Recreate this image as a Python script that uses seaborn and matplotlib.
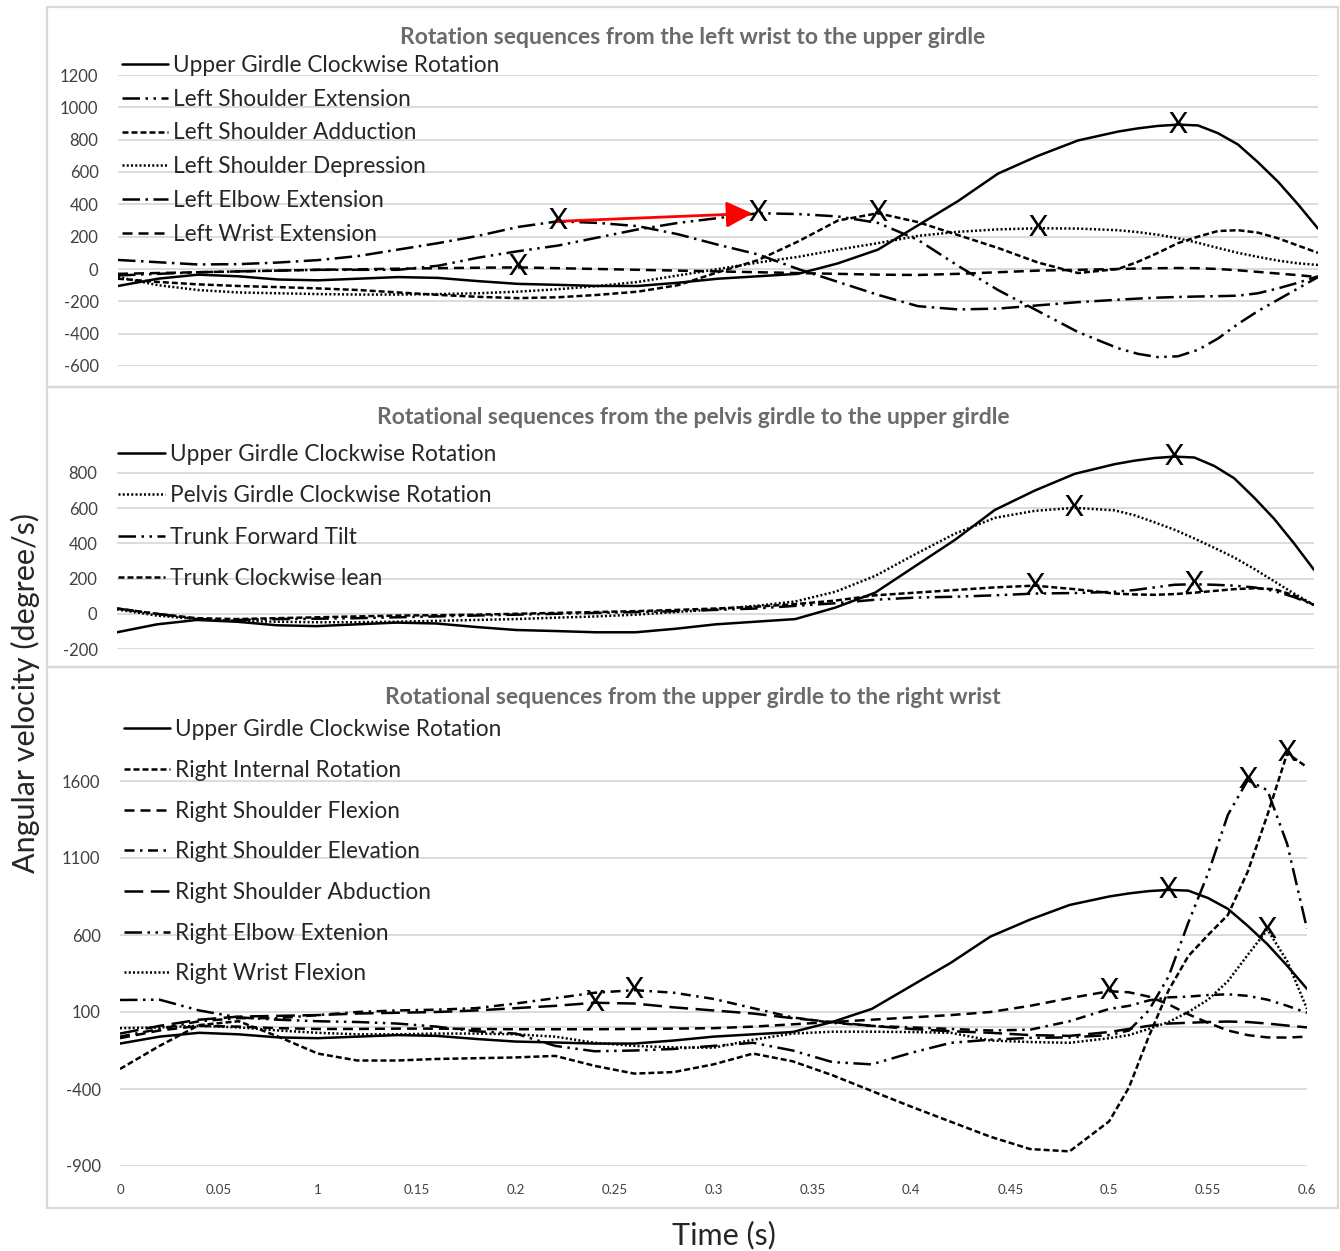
import numpy as np
import pandas as pd
import seaborn as sns
import matplotlib.pyplot as plt
from matplotlib.patches import Rectangle

# ---- data (angular velocity in degree/s) ----
time_s = [0.00, 0.02, 0.04, 0.06, 0.08, 0.10, 0.12, 0.14, 0.16, 0.18,
          0.20, 0.22, 0.24, 0.26, 0.28, 0.30, 0.32, 0.34, 0.36, 0.38,
          0.40, 0.42, 0.44, 0.46, 0.48, 0.50, 0.51, 0.52, 0.53, 0.54,
          0.55, 0.56, 0.57, 0.58, 0.59, 0.60]

upper_girdle = [-105, -60, -35, -45, -65, -70, -60, -50, -55, -75, -92, -98, -105, -105, -85, -60, -45, -30,
                35, 120, 270, 420, 590, 700, 795, 850, 870, 885, 893, 888, 840, 770, 660, 540, 400, 250]

# panel 1: left wrist -> upper girdle
left_shoulder_ext = [-40, -30, -20, -15, -10, -5, -5, -5, 20, 70, 110, 145, 195, 245, 285, 315, 345, 340,
                     325, 285, 180, 20, -130, -260, -390, -490, -525, -545, -540, -500, -430, -340, -260, -190, -120, -50]
left_shoulder_add = [-60, -80, -95, -105, -112, -120, -130, -145, -160, -172, -180, -175, -160, -140, -100, -20, 55, 170,
                     300, 345, 290, 210, 130, 40, -25, 0, 45, 100, 160, 200, 235, 240, 225, 190, 145, 100]
left_shoulder_dep = [-50, -100, -130, -145, -150, -155, -158, -158, -155, -150, -140, -125, -105, -80, -40, 0, 40, 75,
                     120, 160, 205, 230, 245, 252, 250, 240, 228, 212, 190, 162, 130, 100, 75, 52, 35, 25]
left_elbow_ext = [56, 42, 28, 30, 40, 55, 80, 120, 160, 205, 260, 295, 285, 265, 215, 150, 90, 0,
                  -80, -160, -230, -250, -245, -225, -205, -190, -183, -177, -173, -170, -168, -165, -150, -120, -85, -45]
left_wrist_ext = [-30, -25, -20, -15, -10, -5, -2, 2, 5, 8, 10, 5, 0, -5, -10, -15, -20, -25,
                  -30, -35, -37, -30, -20, -10, -5, 0, 3, 5, 6, 5, 0, -8, -18, -28, -38, -50]

# panel 2: pelvis girdle -> upper girdle
pelvis_girdle = [25, -10, -30, -40, -45, -48, -48, -45, -40, -35, -30, -22, -15, -5, 10, 25, 45, 70,
                 125, 215, 338, 455, 545, 585, 602, 588, 560, 520, 478, 428, 375, 320, 255, 185, 115, 50]
trunk_tilt = [30, 0, -30, -35, -30, -28, -25, -20, -15, -10, -5, 0, 5, 10, 15, 22, 30, 45,
              60, 80, 92, 97, 105, 115, 118, 125, 135, 150, 165, 168, 165, 160, 150, 130, 95, 50]
trunk_lean = [30, 0, -25, -30, -25, -20, -15, -10, -8, -5, 0, 5, 10, 15, 22, 30, 40, 55,
              75, 105, 120, 135, 150, 160, 140, 115, 110, 108, 112, 120, 130, 140, 145, 140, 105, 50]

# panel 3: upper girdle -> right wrist
right_internal = [-270, -120, 15, 40, -60, -170, -215, -215, -205, -200, -195, -185, -250, -300, -290, -240, -170, -220,
                  -310, -413, -515, -613, -710, -790, -805, -610, -390, -60, 240, 463, 600, 730, 1010, 1380, 1780, 1690]
right_flexion = [-70, -20, 10, 5, -5, -10, -10, -8, -8, -10, -12, -12, -12, -10, -8, -5, 5, 20,
                 35, 50, 65, 80, 100, 140, 190, 235, 228, 200, 150, 85, 30, -20, -50, -65, -66, -60]
right_elevation = [-60, -10, 40, 60, 60, 80, 100, 110, 115, 125, 155, 190, 225, 242, 225, 185, 125, 65,
                   30, 10, 0, -10, -20, -15, 40, 120, 140, 175, 195, 200, 210, 215, 205, 180, 140, 95]
right_abduction = [-40, 10, 50, 70, 75, 80, 90, 95, 100, 110, 125, 140, 160, 155, 130, 110, 90, 60,
                   35, 10, -10, -25, -35, -50, -55, -30, -10, 10, 25, 30, 35, 38, 35, 25, 12, 0]
right_elbow = [178, 180, 110, 65, 50, 40, 35, 25, 5, -25, -40, -120, -155, -150, -140, -120, -100, -150,
               -225, -240, -165, -100, -80, -68, -65, -50, -20, 110, 330, 680, 1000, 1380, 1605, 1540, 1190, 640]
right_wrist = [-5, 0, 10, 0, -20, -35, -45, -45, -40, -40, -45, -60, -100, -120, -130, -132, -80, -40,
               -28, -28, -30, -35, -85, -95, -100, -70, -50, -10, 35, 100, 180, 300, 470, 635, 430, 120]

x_ticks = [0, 0.05, 0.1, 0.15, 0.2, 0.25, 0.3, 0.35, 0.4, 0.45, 0.5, 0.55, 0.6]
x_tick_labels = ["0", "0.05", "1", "0.15", "0.2", "0.25", "0.3", "0.35", "0.4", "0.45", "0.5", "0.55", "0.6"]

DASHES = {
    "solid": "",
    "short": (2.4, 1.2),
    "medium": (4, 2.4),
    "long": (7.5, 3),
    "dot": (0.8, 0.9),
    "longdashdot": (7, 2.2, 1, 2.2),
    "longdashdotdot": (7, 2.2, 1, 2.2, 1, 2.2),
    "dashdot": (4, 2.2, 1, 2.2),
}

panels = [
    dict(title="Rotation sequences from the left wrist to the upper girdle",
         names=["Upper Girdle Clockwise Rotation", "Left Shoulder Extension", "Left Shoulder Adduction",
                "Left Shoulder Depression", "Left Elbow Extension", "Left Wrist Extension"],
         values=[upper_girdle, left_shoulder_ext, left_shoulder_add, left_shoulder_dep, left_elbow_ext, left_wrist_ext],
         styles=["solid", "longdashdotdot", "short", "dot", "longdashdot", "medium"],
         ylim=(-600, 1200), yticks=list(range(-600, 1201, 200)),
         px=(118, 1318, 75, 366), legend_at=(0.003, 1.07), spacing=0.57),
    dict(title="Rotational sequences from the pelvis girdle to the upper girdle",
         names=["Upper Girdle Clockwise Rotation", "Pelvis Girdle Clockwise Rotation", "Trunk Forward Tilt",
                "Trunk Clockwise lean"],
         values=[upper_girdle, pelvis_girdle, trunk_tilt, trunk_lean],
         styles=["solid", "dot", "longdashdotdot", "short"],
         ylim=(-200, 900), yticks=list(range(-200, 801, 200)),
         px=(117, 1314, 455.4, 649), legend_at=(0.001, 1.06), spacing=0.9),
    dict(title="Rotational sequences from the upper girdle to the right wrist",
         names=["Upper Girdle Clockwise Rotation", "Right Internal Rotation", "Right Shoulder Flexion",
                "Right Shoulder Elevation", "Right Shoulder Abduction", "Right Elbow Extenion", "Right Wrist Flexion"],
         values=[upper_girdle, right_internal, right_flexion, right_elevation, right_abduction, right_elbow, right_wrist],
         styles=["solid", "short", "medium", "dashdot", "long", "longdashdotdot", "dot"],
         ylim=(-900, 1850), yticks=[-900, -400, 100, 600, 1100, 1600],
         px=(120, 1307, 742.5, 1166), legend_at=(0.003, 1.055), spacing=0.87),
]

sns.set_style("white")
plt.rcParams["font.family"] = ["Lato", "DejaVu Sans"]

W, H = 1340, 1251
fig = plt.figure(figsize=(W / 100, H / 100), dpi=100)

# panel frames
for top, bottom in [(7, 387), (387, 667), (667, 1208)]:
    fig.add_artist(Rectangle((47 / W, 1 - bottom / H), (1338 - 47) / W, (bottom - top) / H,
                             transform=fig.transFigure, fill=False, edgecolor="#d9d9d9", lw=1.6))

title_y = [38, 418, 698]
axes = []
for i, p in enumerate(panels):
    x0, x1, y0, y1 = p["px"]
    ax = fig.add_axes([x0 / W, 1 - y1 / H, (x1 - x0) / W, (y1 - y0) / H])
    axes.append(ax)
    n = len(time_s)
    df = pd.DataFrame({
        "time": time_s * len(p["names"]),
        "value": sum(p["values"], []),
        "series": np.repeat(p["names"], n),
    })
    sns.lineplot(data=df, x="time", y="value", style="series", style_order=p["names"],
                 dashes={nm: DASHES[s] for nm, s in zip(p["names"], p["styles"])},
                 color="black", lw=1.8, estimator=None, sort=False, ax=ax)

    # peak markers
    for vals in p["values"]:
        k = int(np.argmax(vals))
        ax.text(time_s[k], vals[k], "X", ha="center", va="center", fontsize=21, color="black", zorder=5)

    ax.set_xlim(0, 0.6)
    ax.set_ylim(*p["ylim"])
    ax.set_yticks(p["yticks"])
    ax.set_yticklabels([str(v) for v in p["yticks"]])
    ax.grid(axis="y", color="#d9d9d9", lw=1.3)
    ax.grid(axis="x", visible=False)
    ax.set_axisbelow(True)
    for s in ax.spines.values():
        s.set_visible(False)
    ax.set_xlabel("")
    ax.set_ylabel("")
    ax.tick_params(axis="y", length=0, pad=14, labelsize=12, labelcolor="#404040")

    handles, labels = ax.get_legend_handles_labels()
    for h in handles:
        h.set_color("black")
        h.set_linewidth(1.8)
    ax.legend(handles, labels, loc="upper left", bbox_to_anchor=p["legend_at"], frameon=False,
              fontsize=16.3, handlelength=2.05, handletextpad=0.22, labelspacing=p["spacing"],
              borderpad=0, borderaxespad=0)

    fig.text(693 / W, 1 - title_y[i] / H, p["title"], ha="center", va="center",
             fontsize=16.5, fontweight="bold", color="#6b6b6b")

# x axis only on the bottom panel
axes[0].set_xticks([])
axes[1].set_xticks([])
axes[2].set_xticks(x_ticks)
axes[2].set_xticklabels(x_tick_labels)
axes[2].tick_params(axis="x", length=0, pad=13, labelsize=9.5, labelcolor="#404040")
axes[2].axhline(0, color="#d9d9d9", lw=1.3, zorder=0)

# red arrow: elbow peak -> shoulder extension peak
k_el = int(np.argmax(left_elbow_ext))
k_sh = int(np.argmax(left_shoulder_ext))
axes[0].annotate("", xy=(time_s[k_sh], left_shoulder_ext[k_sh]), xytext=(time_s[k_el], left_elbow_ext[k_el]),
                 arrowprops=dict(arrowstyle="-|>", color="red", lw=2, mutation_scale=40, shrinkA=0, shrinkB=4),
                 zorder=4)

fig.text(25 / W, 1 - 693 / H, "Angular velocity (degree/s)", rotation=90, ha="center", va="center", fontsize=22)
fig.text(724 / W, 1 - 1235 / H, "Time (s)", ha="center", va="center", fontsize=22)

fig.savefig("out.png", dpi=100)
